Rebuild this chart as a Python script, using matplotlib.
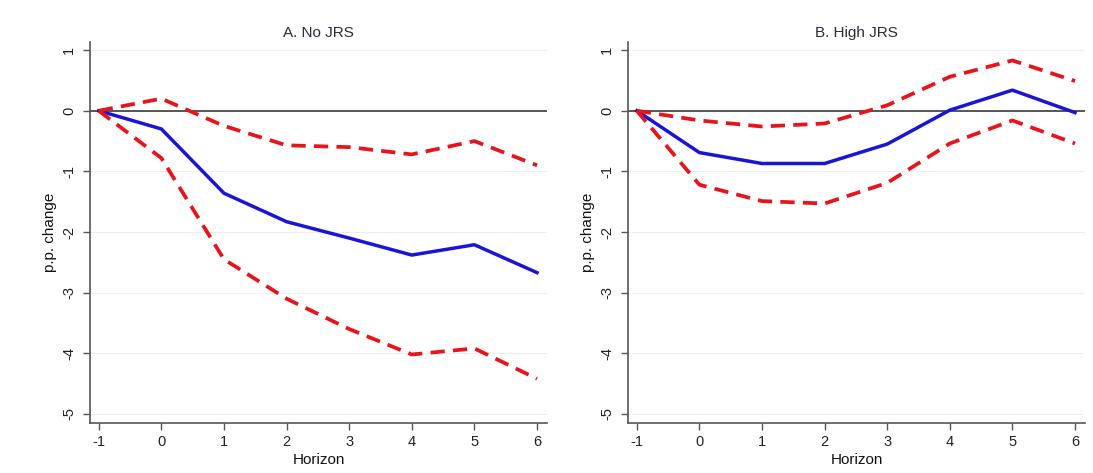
import matplotlib.pyplot as plt
import numpy as np

# horizons
horizon = [-1, 0, 1, 2, 3, 4, 5, 6]

# panel A: no JRS
a_est = [0, -0.30, -1.36, -1.83, -2.10, -2.38, -2.21, -2.67]
a_hi = [0, 0.20, -0.25, -0.57, -0.60, -0.72, -0.50, -0.90]
a_lo = [0, -0.78, -2.45, -3.10, -3.60, -4.02, -3.92, -4.42]

# panel B: high JRS
b_est = [0, -0.69, -0.87, -0.87, -0.55, 0.01, 0.34, -0.03]
b_hi = [0, -0.16, -0.26, -0.21, 0.09, 0.56, 0.83, 0.49]
b_lo = [0, -1.22, -1.49, -1.53, -1.19, -0.54, -0.16, -0.54]

titles = ['A. No JRS', 'B. High JRS']
yticks = [1, 0, -1, -2, -3, -4, -5]

plt.rcParams['font.family'] = ['Liberation Sans', 'DejaVu Sans']
plt.rcParams['axes.unicode_minus'] = False

fig = plt.figure(figsize=(10.93, 4.73), dpi=100)
ax1 = fig.add_axes([0.0823, 0.1057, 0.4182, 0.805])
ax2 = fig.add_axes([0.5746, 0.1057, 0.4181, 0.805])

panels = [(ax1, a_est, a_hi, a_lo), (ax2, b_est, b_hi, b_lo)]
for i, (ax, est, hi, lo) in enumerate(panels):
    for y in yticks:
        ax.axhline(y, color='#efefef', lw=0.8, zorder=0)
    ax.axhline(0, color='#555555', lw=1.4, zorder=1)
    ax.plot(horizon, hi, color='#e8141c', lw=2.7, ls=(0, (3.8, 2.2)), zorder=3)
    ax.plot(horizon, lo, color='#e8141c', lw=2.7, ls=(0, (3.8, 2.2)), zorder=3)
    ax.plot(horizon, est, color='#1a14d6', lw=2.5, zorder=2)
    ax.set_xlim(-1.14, 6.16)
    ax.set_ylim(-5.15, 1.13)
    ax.set_xticks(horizon)
    ax.set_yticks(yticks)
    ax.set_yticklabels([str(y) for y in yticks], rotation=90, va='center')
    for s in ['top', 'right']:
        ax.spines[s].set_visible(False)
    for s in ['left', 'bottom']:
        ax.spines[s].set_color('#555555')
        ax.spines[s].set_linewidth(1.2)
    ax.tick_params(colors='#555555', labelcolor='#222222', labelsize=10.5, length=5, width=1)
    ax.tick_params(axis='y', pad=5)
    ax.set_title(titles[i], fontsize=11, color='#2a2a3a', pad=4)
    ax.set_xlabel('Horizon', fontsize=11, color='#111111', labelpad=3)
    ax.set_ylabel('p.p. change', fontsize=11, color='#111111', labelpad=4)

fig.savefig('out.png', dpi=100)
